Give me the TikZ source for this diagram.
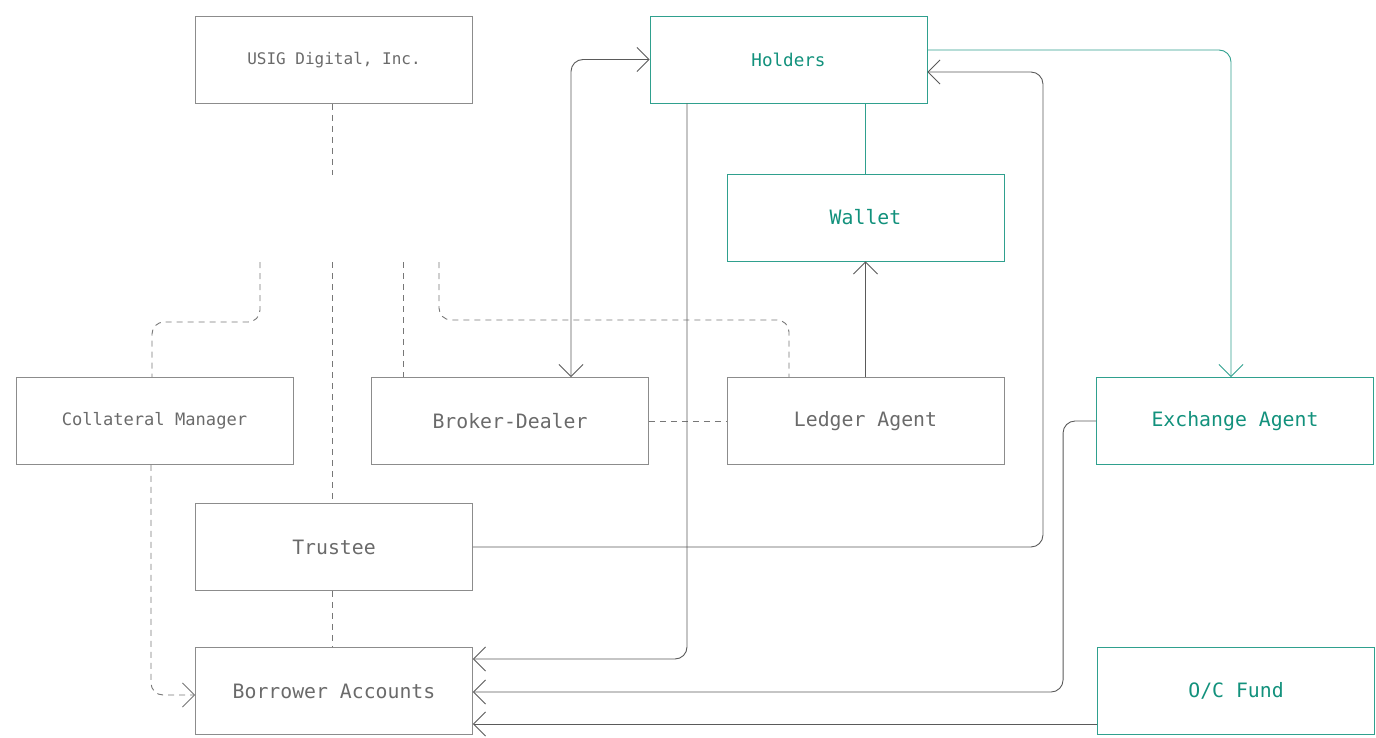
\documentclass[tikz,border=0pt]{standalone}
\usepackage{fontspec}
\setmainfont{DejaVu Sans Mono}
\usepackage{xcolor}
\usepackage{tikz}
\usetikzlibrary{arrows.meta}

\definecolor{inkgray}{HTML}{6A6A6A}
\definecolor{boxgray}{HTML}{8C8C8C}
\definecolor{dashgray}{HTML}{777777}
\definecolor{linegray}{HTML}{5A5A5A}
\definecolor{tealtext}{HTML}{12917C}
\definecolor{tealline}{HTML}{2FA08E}

\begin{document}
\begin{tikzpicture}[
  x=1pt, y=-1pt,
  every node/.style={font=\fontsize{19.8}{23}\selectfont, text=inkgray},
  box/.style={draw=boxgray, line width=0.9pt, minimum width=277pt,
              minimum height=87pt, inner sep=0pt},
  tbox/.style={box, draw=tealline, text=tealtext},
  small/.style={font=\fontsize{16}{19}\selectfont},
  flow/.style={linegray, line width=0.9pt, rounded corners=12pt},
  tflow/.style={flow, tealline},
  link/.style={dashgray, line width=0.9pt, dash pattern=on 6pt off 5pt,
               rounded corners=12pt},
  tip/.style={-{Straight Barb[length=12pt, width=24pt]}},
]
  \useasboundingbox (0,0) rectangle (1376,738);

  % Issuer and its dashed links
  \node[box, small] (usig) at (334,60) {USIG Digital, Inc.};
  \coordinate (hubtop) at (332,175);
  \coordinate (hubA) at (260,262);
  \coordinate (hubB) at (332,262);
  \coordinate (hubC) at (403,262);
  \coordinate (hubD) at (439,262);

  % Holder side
  \node[tbox, font=\fontsize{17.6}{20}\selectfont] (holders) at (788.5,59.5) {Holders};
  \node[tbox] (wallet) at (865.5,217.5) {Wallet};

  % Middle row
  \node[box, font=\fontsize{17.1}{20}\selectfont] (cm) at (154.5,421) {Collateral Manager};
  \node[box] (bd) at (510,421) {Broker-Dealer};
  \node[box] (la) at (865.5,421) {Ledger Agent};
  \node[tbox] (ea) at (1235,421) {Exchange Agent};

  % Bottom rows
  \node[box] (trustee) at (334,547) {Trustee};
  \node[box] (ba) at (334,691) {Borrower Accounts};
  \node[tbox] (ocf) at (1236,691) {O/C Fund};

  % Dashed links
  \draw[link] (hubtop |- usig.south) -- (hubtop);
  \draw[link] (hubA) -- ++(0,60) -| ([xshift=-2.5pt]cm.north);
  \draw[link] (hubB) -- (hubB |- trustee.north);
  \draw[link] (hubC) -- (hubC |- bd.north);
  \draw[link] (hubD) -- ++(0,58) -| ([xshift=-76.5pt]la.north);
  \draw[link] (bd.east) -- (la.west);
  \draw[link] (hubB |- trustee.south) -- (hubB |- ba.north);
  \draw[link, tip] ([xshift=-3.5pt]cm.south) |- ([yshift=-4pt]ba.west);

  % Solid flows
  \draw[flow, {Straight Barb[length=12pt, width=24pt]}-{Straight Barb[length=12pt, width=24pt]}]
    ([xshift=61pt]bd.north) |- (holders.west);
  \draw[flow, tip] ([xshift=-101.5pt]holders.south) |- ([yshift=32pt]ba.east);
  \draw[flow, tip] (trustee.east) -- ++(570,0) |- ([yshift=-12.5pt]holders.east);
  \draw[tflow, tip] ([yshift=9.5pt]holders.east) -| ([xshift=-4pt]ea.north);
  \draw[flow, tip] (ea.west) -- ++(-33,0) |- ([yshift=-1pt]ba.east);
  \draw[flow, tip] ([yshift=-33pt]ocf.west) -- ([yshift=-33pt]ba.east);
  \draw[flow, tip] (la.north) -- (wallet.south);
  \draw[tflow] (holders.south -| wallet.north) -- (wallet.north);
\end{tikzpicture}
\end{document}
